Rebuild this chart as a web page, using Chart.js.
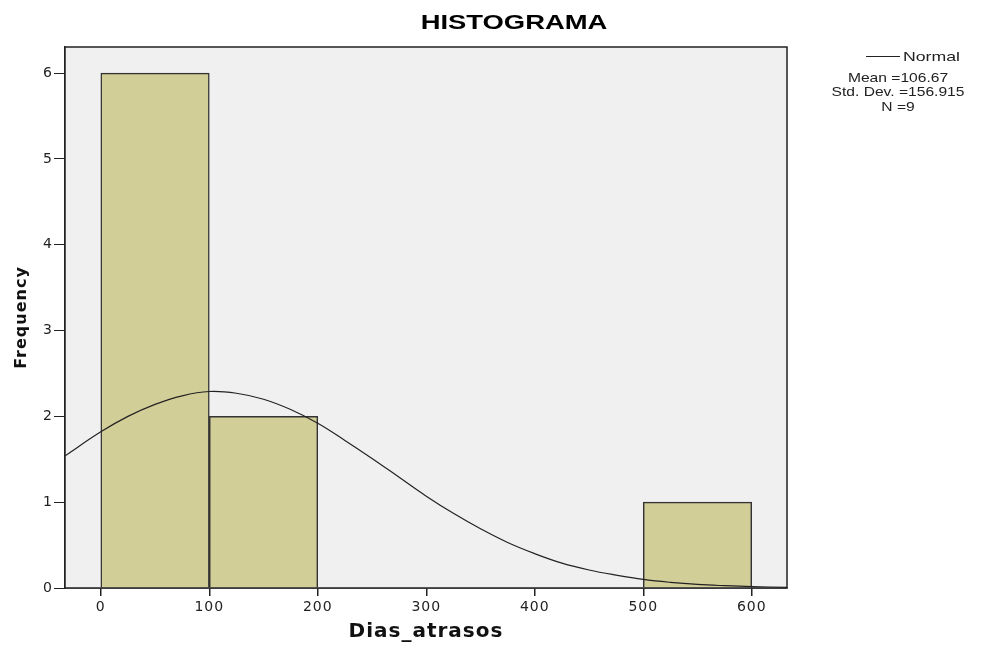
<!DOCTYPE html>
<html>
<head>
<meta charset="utf-8">
<script src="https://cdn.jsdelivr.net/npm/chart.js@4/dist/chart.umd.min.js"></script>
<style>
  html, body { margin: 0; padding: 0; background: #fff; }
  #wrap { width: 995px; height: 646px; position: relative; }
</style>
</head>
<body>
<div id="wrap"><canvas id="histChart"></canvas></div>
<script>
// Histogram bins (bin centre, frequency)
const binCenters = [50, 150, 550];
const binCounts = [6, 2, 1];

// Normal curve (x, frequency)
const curveX = [-33, 0, 25, 50, 75, 100, 125, 150, 175, 200, 225, 250, 275, 300, 325, 350, 375, 400, 425, 450, 475, 500, 525, 550, 575, 600, 633];
const curveY = [1.54, 1.82, 2.0, 2.14, 2.24, 2.29, 2.27, 2.2, 2.08, 1.92, 1.72, 1.51, 1.29, 1.07, 0.87, 0.69, 0.53, 0.4, 0.29, 0.21, 0.15, 0.1, 0.066, 0.042, 0.027, 0.016, 0.008];

const xTicks = [0, 100, 200, 300, 400, 500, 600];
const yTicks = [0, 1, 2, 3, 4, 5, 6];

const legendLines = ['Mean =106.67', 'Std. Dev. =156.915', 'N =9'];

const FONT = '"Liberation Sans", Arial, sans-serif';
const AXIS_FONT = '"DejaVu Sans", sans-serif';

// draws text stretched horizontally, like the original picture
function wideText(ctx, text, x, y, sx, align) {
    ctx.save();
    ctx.translate(x, y);
    ctx.scale(sx, 1);
    ctx.textAlign = align;
    ctx.fillText(text, 0, 0);
    ctx.restore();
}

// Plot background, frame, title and legend
const decorations = {
    id: 'decorations',
    beforeDraw(chart) {
        chart.ctx.letterSpacing = '1px';
    },
    beforeDatasetsDraw(chart) {
        const { ctx, chartArea: a } = chart;
        ctx.save();
        ctx.fillStyle = '#f0f0f0';
        ctx.fillRect(a.left, a.top, a.right - a.left, a.bottom - a.top);
        ctx.restore();
    },
    afterDraw(chart) {
        const { ctx, chartArea: a } = chart;
        ctx.save();
        ctx.letterSpacing = '0px';
        ctx.strokeStyle = '#222';
        ctx.lineWidth = 1.5;
        ctx.strokeRect(a.left, a.top, a.right - a.left, a.bottom - a.top);

        ctx.fillStyle = '#000';
        ctx.font = 'bold 20px ' + FONT;
        ctx.textBaseline = 'middle';
        wideText(ctx, 'HISTOGRAMA', 514, 23, 1.37, 'center');

        // legend
        ctx.strokeStyle = '#222';
        ctx.lineWidth = 1;
        ctx.beginPath();
        ctx.moveTo(866, 56.5);
        ctx.lineTo(900, 56.5);
        ctx.stroke();
        ctx.font = '13px ' + FONT;
        ctx.fillStyle = '#222';
        wideText(ctx, 'Normal', 903, 57, 1.36, 'left');
        legendLines.forEach((t, i) => wideText(ctx, t, 898, 78 + i * 14.5, 1.2, 'center'));
        ctx.restore();
    }
};

const ctx = document.getElementById('histChart').getContext('2d');
new Chart(ctx, {
    type: 'bar',
    data: {
        datasets: [{
            type: 'line',
            label: 'Normal',
            data: curveX.map((x, i) => ({ x: x, y: curveY[i] })),
            borderColor: '#222',
            borderWidth: 1.2,
            pointRadius: 0,
            tension: 0.4,
            fill: false,
            order: 0
        }, {
            type: 'bar',
            label: 'Frequency',
            data: binCenters.map((x, i) => ({ x: x, y: binCounts[i] })),
            backgroundColor: '#d2ce98',
            borderColor: '#333',
            borderWidth: 1.5,
            barPercentage: 1,
            categoryPercentage: 1,
            order: 1
        }]
    },
    options: {
        responsive: true,
        maintainAspectRatio: false,
        animation: false,
        layout: { padding: { left: 0, top: 47, right: 208, bottom: 0 } },
        plugins: {
            legend: { display: false },
            tooltip: { enabled: false }
        },
        scales: {
            x: {
                type: 'linear',
                offset: false,
                min: -33,
                max: 632.5,
                afterFit(scale) { scale.height = 58; },
                afterBuildTicks(scale) { scale.ticks = xTicks.map(v => ({ value: v })); },
                grid: { offset: false, drawOnChartArea: false, drawTicks: true, tickLength: 8, color: '#222', lineWidth: 1.5 },
                border: { display: true, color: '#222', width: 1.5 },
                ticks: {
                    color: '#222',
                    padding: 3,
                    maxRotation: 0,
                    font: { family: AXIS_FONT, size: 14 }
                },
                title: {
                    display: true,
                    text: 'Dias_atrasos',
                    color: '#111',
                    padding: { top: 0, bottom: 2 },
                    font: { family: AXIS_FONT, size: 20, weight: 'bold' }
                }
            },
            y: {
                min: 0,
                max: 6.305,
                afterFit(scale) { scale.width = 65; },
                afterBuildTicks(scale) { scale.ticks = yTicks.map(v => ({ value: v })); },
                grid: { drawOnChartArea: false, drawTicks: true, tickLength: 11, color: '#222' },
                border: { display: true, color: '#222', width: 1.5 },
                ticks: {
                    color: '#222',
                    padding: 1,
                    font: { family: AXIS_FONT, size: 14 }
                },
                title: {
                    display: true,
                    text: 'Frequency',
                    color: '#111',
                    padding: { top: 12, bottom: 0 },
                    font: { family: AXIS_FONT, size: 16, weight: 'bold' }
                }
            }
        }
    },
    plugins: [decorations]
});
</script>
</body>
</html>
